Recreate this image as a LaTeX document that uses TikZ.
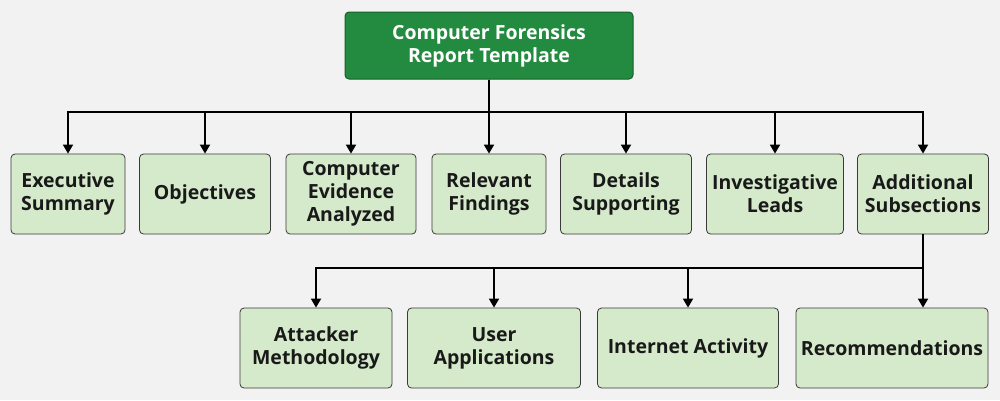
\documentclass[tikz,border=0pt]{standalone}
\usepackage{fontspec}
\setmainfont{Open Sans}
\usetikzlibrary{arrows.meta}
\definecolor{bgcol}{HTML}{F2F2F2}
\definecolor{rootfill}{HTML}{238B3F}
\definecolor{rootline}{HTML}{1B5C2C}
\definecolor{boxfill}{HTML}{D5EACB}
\definecolor{boxline}{HTML}{3A3A3A}
\begin{document}
\begin{tikzpicture}[x=1pt,y=-1pt,
    rootbox/.style={draw=rootline,fill=rootfill,text=white,rounded corners=4pt,
      line width=1pt,minimum width=288pt,minimum height=67pt,align=center,
      font=\bfseries\fontsize{19.5}{23}\selectfont},
    itembox/.style={draw=boxline,fill=boxfill,text=black!90,rounded corners=4pt,
      line width=0.8pt,minimum height=80pt,inner sep=2pt,align=center,
      font=\bfseries\fontsize{19.5}{23}\selectfont},
    link/.style={line width=1.8pt,-{Triangle[width=10pt,length=9pt]}}]
      \fill[bgcol] (0,0) rectangle (1000,400);
      \node[rootbox] (root) at (489,45.5) {Computer Forensics\\Report Template};
      \node[itembox,minimum width=114pt] (exec) at (68,194) {Executive\\Summary};
      \node[itembox,minimum width=131pt] (obj) at (205,194) {Objectives};
      \node[itembox,minimum width=130pt] (evid) at (351,194) {Computer\\Evidence\\Analyzed};
      \node[itembox,minimum width=114pt] (find) at (489,194) {Relevant\\Findings};
      \node[itembox,minimum width=131pt] (supp) at (626,194) {Details\\Supporting};
      \node[itembox,minimum width=137pt] (leads) at (775,194) {Investigative\\Leads};
      \node[itembox,minimum width=131pt] (addl) at (923,194) {Additional\\Subsections};
      \node[itembox,minimum width=152pt] (attack) at (316,348) {Attacker\\Methodology};
      \node[itembox,minimum width=173pt] (apps) at (494,348) {User\\Applications};
      \node[itembox,minimum width=181pt] (inet) at (688,348) {Internet Activity};
      \node[itembox,minimum width=192pt] (recom) at (892,348) {Recommendations};
      \coordinate (bus) at (489,112);
      \coordinate (subbus) at (923,268);
      \begin{scope}[link]
        \foreach \child in {exec,obj,evid,find,supp,leads,addl}
          \draw (root.south) -- (bus) -| (\child.north);
        \foreach \child in {attack,apps,inet}
          \draw (addl.south) -- (subbus) -| (\child.north);
        \draw (addl.south) -- (subbus) -- (subbus |- recom.north);
      \end{scope}
    \end{tikzpicture}
\end{document}
